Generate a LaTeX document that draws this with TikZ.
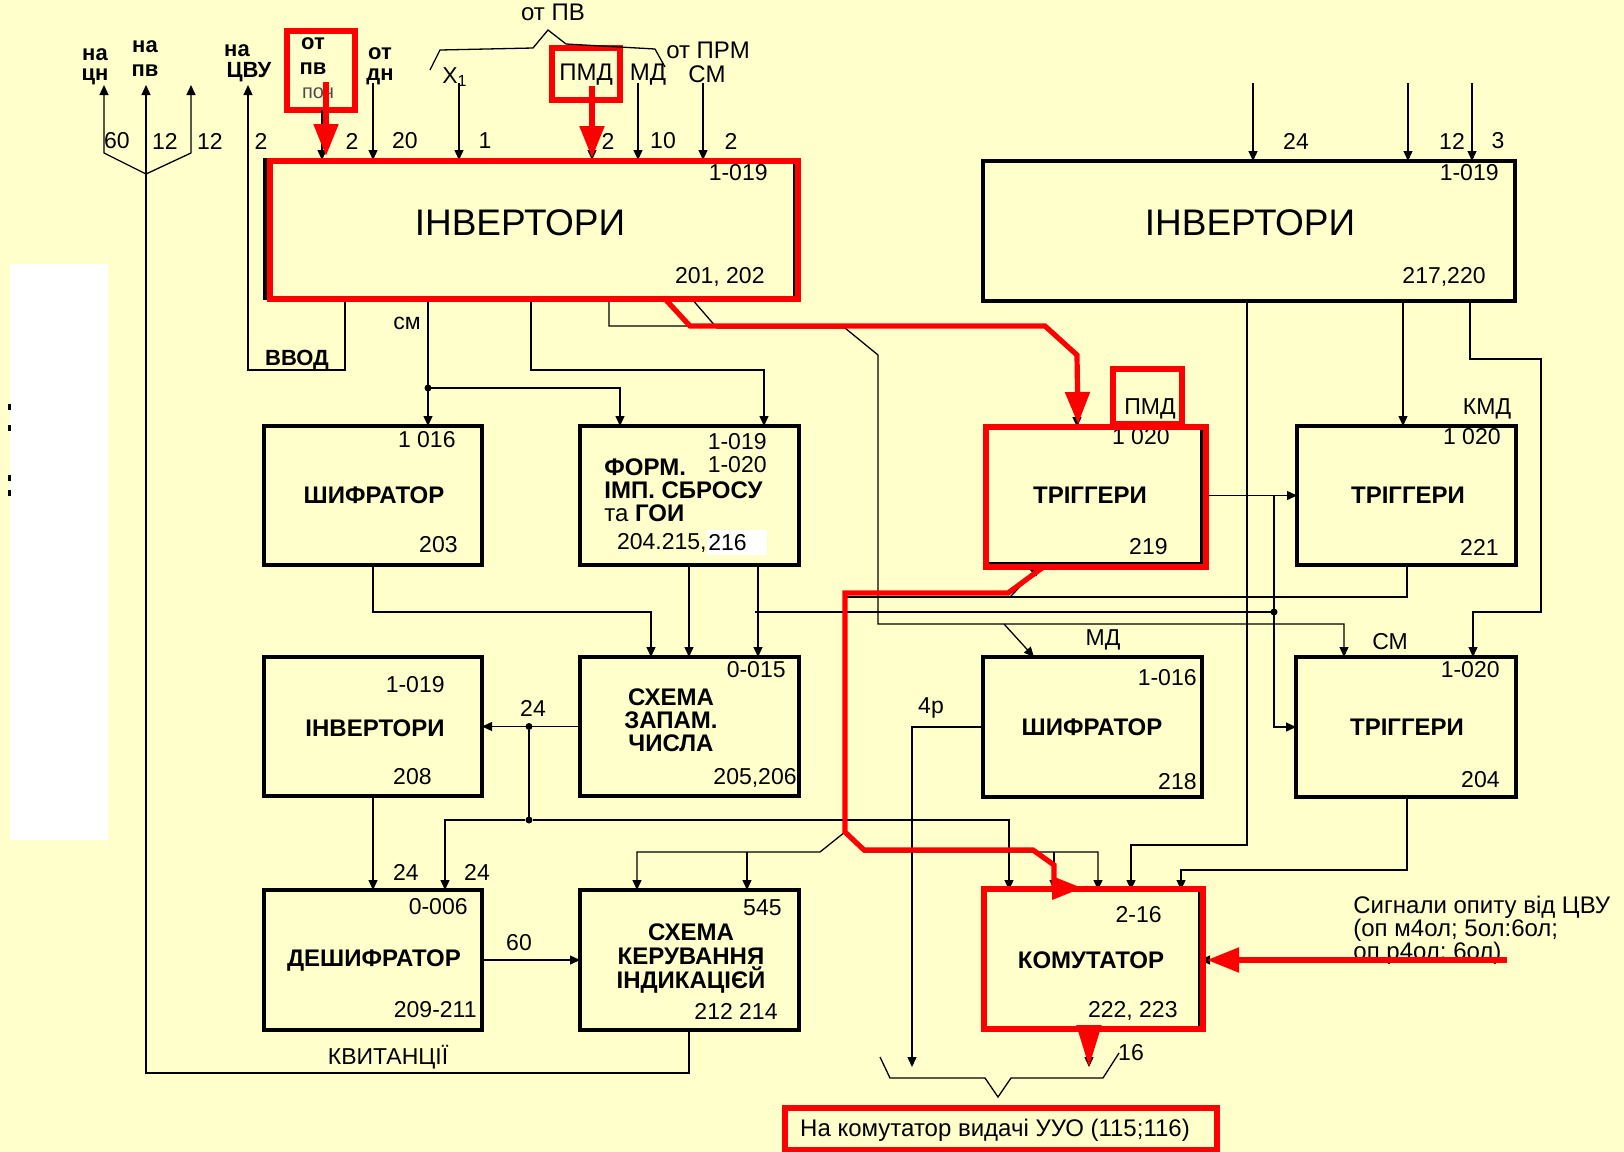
\documentclass[tikz,border=0pt]{standalone}
\usepackage{fontspec}
\setmainfont{Liberation Sans}
\usetikzlibrary{arrows.meta}
\definecolor{bgy}{RGB}{255,255,204}
\newcommand\blk[6][box]{\node[#1, minimum width={(#5-#3)*0.5pt}, minimum height={(#6-#4)*0.5pt}] (#2) at (#3,#4) {};}
\begin{document}
\begin{tikzpicture}[x=0.5pt,y=-0.5pt,
 box/.style={draw,line width=2pt,inner sep=0pt,outer sep=0pt,anchor=north west},
 rbox/.style={draw=red,line width=2.6pt,inner sep=0pt,outer sep=0pt,anchor=north west},
 ln/.style={line width=0.65pt},
 arr/.style={line width=0.65pt,-{Triangle[length=5pt,width=4.5pt]}},
 rln/.style={red,line width=2.6pt},
 rarr/.style={red,line width=2.6pt,-{Triangle[length=16pt,width=12pt]}},
 lb/.style={inner sep=0pt,font=\fontsize{11.5}{12}\selectfont},
 lbb/.style={inner sep=0pt,font=\fontsize{11}{12}\selectfont\bfseries},
 nm/.style={inner sep=0pt,font=\fontsize{11.5}{12}\selectfont},
 ttl/.style={inner sep=0pt,align=center,font=\fontsize{12}{11.5}\selectfont\bfseries},
 big/.style={inner sep=0pt,font=\fontsize{18.5}{20}\selectfont},
 dot/.style={circle,fill,inner sep=0pt,minimum size=3.5pt}]
\fill[bgy] (0,0) rectangle (1624,1152);
\useasboundingbox (0,0) rectangle (1624,1152);
\fill[white] (10,264) rectangle (108,840);
\foreach \yy in {404,425,475,490} \fill (8,\yy) rectangle (11,\yy+6);

% ---------- boxes ----------
\blk{inv1}{265}{160}{795}{298}
\blk{inv2}{983}{161}{1515}{301}
\blk{sh203}{264}{426}{482}{565}
\blk{form}{580}{426}{799}{565}
\blk{tr219}{987}{427}{1202}{564}
\blk{tr221}{1297}{426}{1516}{565}
\blk{inv208}{264}{657}{482}{796}
\blk{zap}{580}{657}{799}{796}
\blk{sh218}{983}{657}{1202}{797}
\blk{tr204}{1296}{657}{1516}{797}
\blk{desh}{264}{890}{482}{1030}
\blk{ker}{580}{890}{799}{1030}
\blk{kom}{983}{890}{1200}{1030}
\blk[rbox]{pvr}{287}{31}{355}{110}
\blk[rbox]{pmdr}{552}{48}{620}{100}

% ---------- free ends ----------
\coordinate (nc) at (104,85);
\coordinate (np) at (146,85);
\coordinate (n3) at (191,85);
\coordinate (ncv) at (248,85);
\coordinate (fk) at (146,174);

% ---------- top-left outputs ----------
\draw[arr] (fk) -- (104,153) -- (nc);
\draw[arr] (fk) -- (191,153) -- (n3);
\draw[arr] (ker.south -| 689,0) |- (146,1073) -- (np);
\draw[arr] (inv1.south -| 345,0) |- (248,370) -- (ncv);

% ---------- inputs of inv1 / inv2 ----------
\draw[arr] (pvr.south -| 322,0) -- (inv1.north -| 322,0);
\draw[arr] (373,83) -- (inv1.north -| 373,0);
\draw[arr] (459,83) -- (inv1.north -| 459,0);
\draw[arr] (pmdr.south -| 592,0) -- (inv1.north -| 592,0);
\draw[arr] (638,83) -- (inv1.north -| 638,0);
\draw[arr] (703,83) -- (inv1.north -| 703,0);
\draw[arr] (1253,83) -- (inv2.north -| 1253,0);
\draw[arr] (1408,83) -- (inv2.north -| 1408,0);
\draw[arr] (1472,83) -- (inv2.north -| 1472,0);

% ---------- inv1 outputs ----------
\draw[arr] (inv1.south -| 428,0) -- (sh203.north -| 428,0);
\draw[arr] (428,388) -| (form.north -| 620,0);
\node[dot] (d1) at (428,388) {};
\draw[arr] (inv1.south -| 531,0) |- (764,370) -- (form.north -| 764,0);
\draw[arr] (inv1.south -| 609,0) |- (1045,326) -- (1077,355) -- (tr219.north -| 1077,0);
\draw[arr] (inv1.south -| 691,0) -- (717,328) -- (845,328) -- (878,355) |- (1344,624) -- (tr204.north -| 1344,0);
\draw[arr] (1004,624) -- (sh218.north -| 1034,0);

% ---------- triggers ----------
\draw[arr] (tr219.east) -- (tr221.west);
\draw[arr] (1274,495.5) |- (tr204.west);
\draw[ln] (755,612) -- (1274,612);
\node[dot] (d4) at (1274,612) {};

% ---------- form / shifrator ----------
\draw[arr] (form.south -| 689,0) -- (zap.north -| 689,0);
\draw[arr] (form.south -| 758,0) -- (zap.north -| 758,0);
\draw[arr] (sh203.south -| 373,0) |- (651,612) -- (zap.north -| 651,0);

% ---------- schema zapam ----------
\draw[arr] (zap.west) -- (inv208.east);
\node[dot] (d2) at (529,726.5) {};
\draw[ln] (d2) -- (529,820);
\node[dot] (d3) at (529,820) {};
\draw[arr] (d3) -| (desh.north -| 445,0);
\draw[arr] (d3) -| (kom.north -| 1009,0);
\draw[arr] (inv208.south -| 373,0) -- (desh.north -| 373,0);
\draw[arr] (desh.east) -- (ker.west);

% ---------- tr221 output ----------
\draw[ln] (tr221.south -| 1407,0) |- (845,597) -- (845,832);
\draw[arr] (1010,597) -- (1040,566);
\draw[arr] (845,832) -- (820,852) -| (ker.north -| 637,0);
\draw[arr] (747,852) -- (ker.north -| 747,0);
\draw[arr] (845,832) -- (864,852) -| (kom.north -| 1098,0);
\draw[arr] (1054,852) -- (kom.north -| 1054,0);

% ---------- inv2 outputs ----------
\draw[arr] (inv2.south -| 1247,0) |- (1131,845) -- (kom.north -| 1131,0);
\draw[arr] (inv2.south -| 1403,0) -- (tr221.north -| 1403,0);
\draw[arr] (inv2.south -| 1470,0) |- (1541,359) |- (1473,612) -- (tr204.north -| 1473,0);
\draw[arr] (tr204.south -| 1407,0) |- (1181,870) -- (kom.north -| 1181,0);
\draw[arr] (sh218.west) -| (912,1067);
\draw[arr] (kom.south -| 1089,0) -- (1089,1067);
\draw[arr] (1260,960) -- (kom.east);

% ---------- braces ----------
\draw[ln] (430,70) -- (440,50) -- (533,48) -- (548,30) -- (566,44) -- (655,49) -- (665,67);
\draw[ln] (880,1057) -- (890,1078) -- (985,1078) -- (998,1097) -- (1011,1078) -- (1103,1078) -- (1119,1053);

% ---------- top labels ----------
\node[lbb] (a1) at (95,55) {на};
\node[lbb] (a2) at (95,77) {цн};
\node[lbb] (a3) at (145,47) {на};
\node[lbb] (a4) at (145,71) {пв};
\node[lbb] (a5) at (237,51) {на};
\node[lbb] (a6) at (249,72) {ЦВУ};
\node[lbb] (a7) at (313,44) {от};
\node[lbb] (a8) at (313,69) {пв};
\node[lb,font=\fontsize{10}{10}\selectfont,black!70] (a9) at (318,93) {поч};
\node[lbb] (a10) at (380,54) {от};
\node[lbb] (a11) at (380,77) {дн};
\node[lb,font=\fontsize{12}{12}\selectfont] (a12) at (553,12) {от ПВ};
\node[lb] (a13) at (455,77) {X\textsubscript{1}};
\node[lb,font=\fontsize{12}{12}\selectfont] (a14) at (586,75) {ПМД};
\node[lb,font=\fontsize{12}{12}\selectfont] (a15) at (648,75) {МД};
\node[lb,font=\fontsize{12}{12}\selectfont] (a16) at (708,50) {от ПРМ};
\node[lb,font=\fontsize{12}{12}\selectfont] (a17) at (707,74) {СМ};
\node[nm] (b1) at (117,141) {60};
\node[nm] (b2) at (165,141) {12};
\node[nm] (b3) at (210,141) {12};
\node[nm] (b4) at (261,141) {2};
\node[nm] (b5) at (352,141) {2};
\node[nm] (b6) at (405,141) {20};
\node[nm] (b7) at (485,141) {1};
\node[nm] (b8) at (608,141) {2};
\node[nm] (b9) at (663,141) {10};
\node[nm] (b10) at (731,141) {2};
\node[nm] (b11) at (1296,141) {24};
\node[nm] (b12) at (1452,141) {12};
\node[nm] (b13) at (1498,141) {3};

% ---------- box texts ----------
\node[nm,anchor=east] (t1) at (768,173) {1-019};
\node[big] (t2) at (520,223) {ІНВЕРТОРИ};
\node[nm,anchor=east] (t3) at (765,277) {201, 202};
\node[nm,anchor=east] (t4) at (1499,173) {1-019};
\node[big] (t5) at (1250,223) {ІНВЕРТОРИ};
\node[nm,anchor=east] (t6) at (1486,277) {217,220};
\node[nm,anchor=east] (t7) at (456,440) {1 016};
\node[ttl] (t8) at (374,495) {ШИФРАТОР};
\node[nm,anchor=east] (t9) at (458,545) {203};
\node[nm,anchor=east] (t10) at (767,442) {1-019};
\node[nm,anchor=east] (t11) at (767,465) {1-020};
\node[ttl,anchor=west] (t12) at (604,467) {ФОРМ.};
\node[ttl,anchor=west] (t13) at (604,490) {ІМП. СБРОСУ};
\node[ttl,anchor=west] (t14) at (604,513) {\mdseries та \bfseries ГОИ};
\fill[white] (707,530) rectangle (767,555);
\node[nm,anchor=east] (t15) at (707,543) {204.215,};
\node[nm,anchor=west] (t16) at (708,543) {216};
\node[nm,anchor=east] (t17) at (1170,437) {1 020};
\node[ttl] (t18) at (1090,495) {ТРІГГЕРИ};
\node[nm,anchor=east] (t19) at (1168,547) {219};
\node[nm,anchor=east] (t20) at (1501,437) {1 020};
\node[ttl] (t21) at (1408,495) {ТРІГГЕРИ};
\node[nm,anchor=east] (t22) at (1499,547) {221};
\node[nm,anchor=east] (t23) at (445,685) {1-019};
\node[ttl] (t24) at (375,728) {ІНВЕРТОРИ};
\node[nm,anchor=east] (t25) at (432,777) {208};
\node[nm,anchor=east] (t26) at (786,670) {0-015};
\node[ttl] (t27) at (671,720) {СХЕМА\\ЗАПАМ.\\ЧИСЛА};
\node[nm,anchor=east] (t28) at (797,778) {205,206};
\node[nm,anchor=east] (t29) at (1197,678) {1-016};
\node[ttl] (t30) at (1092,727) {ШИФРАТОР};
\node[nm,anchor=east] (t31) at (1197,782) {218};
\node[nm,anchor=east] (t32) at (1500,670) {1-020};
\node[ttl] (t33) at (1407,727) {ТРІГГЕРИ};
\node[nm,anchor=east] (t34) at (1500,780) {204};
\node[nm,anchor=east] (t35) at (468,907) {0-006};
\node[ttl] (t36) at (374,960) {ДЕШИФРАТОР};
\node[nm,anchor=east] (t37) at (477,1010) {209-211};
\node[nm,anchor=east] (t38) at (782,908) {545};
\node[ttl,font=\fontsize{12}{12}\selectfont\bfseries] (t39) at (691,958) {СХЕМА\\КЕРУВАННЯ\\ІНДИКАЦІЄЙ};
\node[nm,anchor=east] (t40) at (778,1011) {212 214};
\node[nm,anchor=east] (t41) at (1162,915) {2-16};
\node[ttl] (t42) at (1091,960) {КОМУТАТОР};
\node[nm,anchor=east] (t43) at (1178,1011) {222, 223};

% ---------- other labels ----------
\node[lb] (c1) at (407,323) {см};
\node[lbb] (c2) at (297,360) {ВВОД};
\node[lb] (c3) at (1150,409) {ПМД};
\node[lb] (c4) at (1487,409) {КМД};
\node[lb] (c5) at (1103,640) {МД};
\node[lb] (c6) at (1390,642) {СМ};
\node[lb] (c7) at (533,708) {24};
\node[lb] (c8) at (931,708) {4р};
\node[lb] (c9) at (406,872) {24};
\node[lb] (c10) at (477,872) {24};
\node[lb] (c11) at (519,943) {60};
\node[lb] (c12) at (388,1057) {КВИТАНЦІЇ};
\node[lb] (c13) at (1131,1053) {16};
\node[lb,anchor=west,align=left,font=\fontsize{12}{11.5}\selectfont] (c14) at (1353,930) {Сигнали опиту від ЦВУ\\(оп м4ол; 5ол:6ол;\\оп р4ол; 6ол)};
\node[lb,font=\fontsize{12}{12}\selectfont] (c15) at (995,1130) {На комутатор видачі УУО (115;116)};

% ---------- red overlay ----------
\blk[rbox]{inv1r}{270}{161}{798}{299}
\blk[rbox]{tr219r}{986}{427}{1206}{567}
\blk[rbox]{komr}{984}{889}{1203}{1029}
\blk[rbox]{pmd2r}{1113}{369}{1182}{424}
\blk[rbox]{botr}{785}{1108}{1217}{1150}
\draw[rarr] (326,82) -- (326,156);
\draw[rarr] (592,86) -- (592,158);
\draw[rarr] (666,300) -- (690,326) -- (1045,326) -- (1077,355) -- (1078,424);
\draw[rln] (1042,568) -- (1008,593) -- (845,593) -- (845,832) -- (864,850) -- (1033,850) -- (1054,865) -- (1054,888);
\fill[red] (1052,876) -- (1082,888) -- (1052,900) -- cycle;
\draw[rarr] (1507,960) -- (1207,960);
\draw[red,line width=2.6pt,-{Triangle[length=21pt,width=12pt]}] (1089,1026) -- (1089,1067);
\end{tikzpicture}
\end{document}
